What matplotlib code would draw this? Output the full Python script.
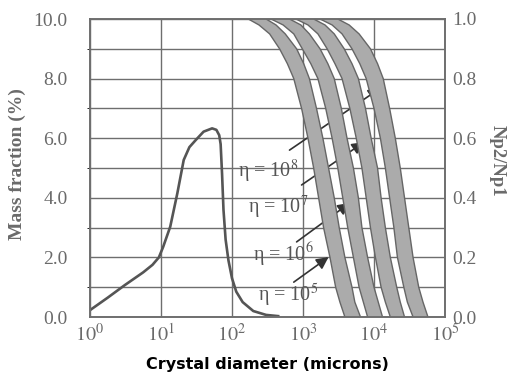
import numpy as np
import matplotlib
matplotlib.use("Agg")
import matplotlib.pyplot as plt
from matplotlib.transforms import ScaledTranslation

plt.rcParams['mathtext.fontset'] = 'stix'
plt.rcParams['font.family'] = ['Liberation Serif', 'DejaVu Serif']

# Mass fraction distribution (log10 diameter, %)
mass_logd = [0.0, 0.25, 0.49, 0.75, 0.88, 0.97, 1.03, 1.13, 1.23, 1.32, 1.40, 1.49,
             1.60, 1.72, 1.78, 1.82, 1.84, 1.86, 1.88, 1.91, 1.95, 2.00, 2.06, 2.15,
             2.30, 2.48, 2.65]
mass_pct = [0.23, 0.65, 1.07, 1.50, 1.75, 2.00, 2.35, 3.03, 4.15, 5.27, 5.70, 5.94,
            6.22, 6.33, 6.28, 6.10, 5.80, 4.80, 3.60, 2.60, 1.90, 1.30, 0.85, 0.50,
            0.20, 0.07, 0.03]

# Np2/Np1 bands, one per eta; left/right edges in log10 diameter
band_ratio = [1.0, 0.98, 0.95, 0.9, 0.85, 0.8, 0.7, 0.6, 0.5, 0.4, 0.3, 0.2, 0.1, 0.05, 0.0]
eta5_left = [2.23, 2.38, 2.53, 2.67, 2.78, 2.87, 2.98, 3.07, 3.15, 3.22, 3.29, 3.38, 3.46, 3.52, 3.59]
eta5_right = [2.48, 2.62, 2.75, 2.91, 3.01, 3.09, 3.19, 3.28, 3.36, 3.44, 3.51, 3.59, 3.69, 3.73, 3.81]
eta6_left = [2.55, 2.72, 2.87, 2.99, 3.11, 3.21, 3.32, 3.41, 3.49, 3.56, 3.63, 3.71, 3.79, 3.85, 3.91]
eta6_right = [2.81, 2.97, 3.09, 3.24, 3.35, 3.44, 3.54, 3.62, 3.71, 3.78, 3.83, 3.91, 4.00, 4.06, 4.12]
eta7_left = [2.90, 3.07, 3.21, 3.34, 3.45, 3.55, 3.66, 3.75, 3.83, 3.89, 3.95, 4.02, 4.10, 4.16, 4.23]
eta7_right = [3.15, 3.31, 3.44, 3.58, 3.69, 3.78, 3.88, 3.96, 4.05, 4.10, 4.16, 4.23, 4.32, 4.37, 4.43]
eta8_left = [3.24, 3.41, 3.55, 3.69, 3.80, 3.89, 4.00, 4.09, 4.16, 4.22, 4.28, 4.33, 4.42, 4.47, 4.55]
eta8_right = [3.49, 3.65, 3.79, 3.95, 4.05, 4.13, 4.22, 4.30, 4.37, 4.43, 4.49, 4.55, 4.63, 4.69, 4.76]

# eta labels: exponent, text position (log10 d, %), arrow tail and head (log10 d, %)
eta_exp = [8, 7, 6, 5]
label_pos = [(2.09, 4.87), (2.23, 3.66), (2.29, 2.08), (2.36, 0.74)]
arrow_tail = [(2.81, 5.60), (2.98, 4.43), (2.91, 2.52), (2.87, 1.17)]
arrow_head = [(4.09, 7.68), (3.86, 5.87), (3.66, 3.83), (3.36, 2.01)]

left_ticks = [0, 2, 4, 6, 8, 10]
right_ticks = [0.0, 0.2, 0.4, 0.6, 0.8, 1.0]

grid_col = '#6e6e6e'
text_col = '#6a6a6a'

fig = plt.figure(figsize=(5.07, 3.82), dpi=100)
ax = fig.add_axes([90 / 507, 1 - 317 / 382, 355 / 507, 298 / 382])
ax2 = ax.twinx()

ax.set_xscale('log')
ax.set_xlim(1, 1e5)
ax.set_ylim(0, 10)
ax2.set_ylim(0, 1)

ax.set_yticks(left_ticks)
ax.set_yticks(np.arange(1, 10, 2), minor=True)
ax.set_yticklabels([f"{v:.1f}" for v in left_ticks], fontsize=14, color=text_col)
ax2.set_yticks(right_ticks)
ax2.set_yticklabels([f"{v:.1f}" for v in right_ticks], fontsize=14, color=text_col)
ax.set_xticks([10.0 ** k for k in range(6)])
ax.set_xticklabels([f"$10^{{{k}}}$" for k in range(6)], fontsize=14.5, color=text_col)
ax.xaxis.set_minor_locator(matplotlib.ticker.NullLocator())
# keep the "10" of each label centred under its gridline
shift = ScaledTranslation(7 / 100, 0, fig.dpi_scale_trans)
for lab in ax.get_xticklabels():
    lab.set_transform(lab.get_transform() + shift)

ax.grid(True, which='both', color=grid_col, lw=1.0)
ax.set_axisbelow(True)
ax.tick_params(axis='y', length=0, pad=16)
ax.tick_params(axis='x', length=0, pad=5)
ax2.tick_params(length=0, pad=5)
for a in (ax, ax2):
    for s in a.spines.values():
        s.set_color(grid_col)
        s.set_linewidth(1.2)

# mass fraction curve
ax.plot([10 ** v for v in mass_logd], mass_pct, color='#555555', lw=1.9)

# Np2/Np1 bands
bands = [(eta5_left, eta5_right), (eta6_left, eta6_right),
         (eta7_left, eta7_right), (eta8_left, eta8_right)]
for left, right in bands:
    xs = [10 ** v for v in left] + [10 ** v for v in right[::-1]]
    ys = band_ratio + band_ratio[::-1]
    ax2.fill(xs, ys, facecolor='#ababab', edgecolor='#666666', lw=1.0)

for e, (lx, ly), (tx, ty), (hx, hy) in zip(eta_exp, label_pos, arrow_tail, arrow_head):
    ax.text(10 ** lx, ly, f"η = 10$^{{{e}}}$", fontsize=14.5, color='#555555',
            va='center', ha='left')
    ax.annotate('', xy=(10 ** hx, hy), xytext=(10 ** tx, ty),
                arrowprops=dict(arrowstyle='-|>', color='#333333', lw=1.2,
                                mutation_scale=18, shrinkA=0, shrinkB=0))

ax.set_ylabel('Mass fraction (%)', fontsize=14, fontweight='bold', color=text_col,
              va='center')
ax.yaxis.set_label_coords(-0.204, 0.513)
ax2.set_ylabel('Np2/Np1', fontsize=13.5, fontweight='bold', color=text_col,
               rotation=-90, va='center')
ax2.yaxis.set_label_coords(1.146, 0.523)
ax.set_xlabel('Crystal diameter (microns)', fontsize=11.5, fontweight='bold',
              color='black', family='DejaVu Sans', labelpad=8)

fig.savefig('out.png', dpi=100)
